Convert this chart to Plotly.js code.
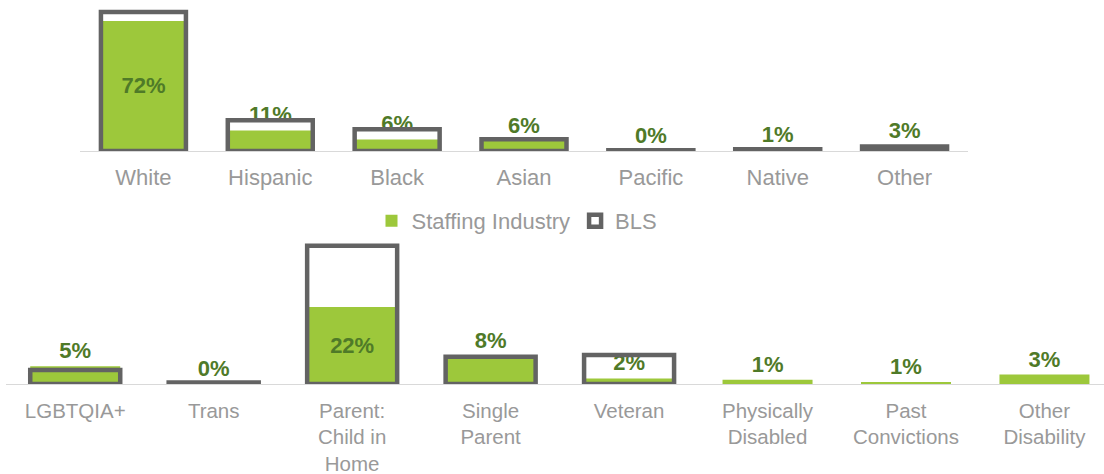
<!DOCTYPE html>
<html>
<head>
<meta charset="utf-8">
<script src="https://cdn.plot.ly/plotly-3.0.1.min.js"></script>
<style>html,body{margin:0;padding:0;background:#fff;}#chart{width:1104px;height:474px;}</style>
</head>
<body>
<div id="chart"></div>
<script>
// Top panel: race / ethnicity
const raceCategories = ["White", "Hispanic", "Black", "Asian", "Pacific", "Native", "Other"];
const raceStaffing = [72, 11.4, 6.4, 5.6, 0.1, 0.8, 2.8];
const raceStaffingLabels = ["72%", "11%", "6%", "6%", "0%", "1%", "3%"];
const raceBLS = [77, 17, 12, 6.5, 0.4, 1.0, 2.5];

// Bottom panel: other demographics
const otherCategories = ["LGBTQIA+", "Trans", "Parent:<br>Child in<br>Home", "Single<br>Parent", "Veteran",
  "Physically<br>Disabled", "Past<br>Convictions", "Other<br>Disability"];
const otherStaffing = [5.1, 0.1, 22, 8, 1.6, 1.2, 0.6, 2.7];
const otherStaffingLabels = ["5%", "0%", "22%", "8%", "2%", "1%", "1%", "3%"];
const otherBLS = [4.0, 0.4, 39.5, 7.8, 8.3, null, null, null];

const GREEN = "#9DC83B";
const OUTLINE = "#636363";
const LABEL = "#4F7A28";
const FONT = "Liberation Sans, Arial, sans-serif";

const labelFont = {family: FONT, size: 22, color: LABEL, weight: "bold"};

function posArr(vals, insideIdx) {
  return vals.map((v, i) => i === insideIdx ? "inside" : "outside");
}

const traces = [
  {
    type: "bar", name: "Staffing Industry", x: raceCategories, y: raceStaffing,
    xaxis: "x", yaxis: "y", width: 0.67,
    marker: {color: GREEN, line: {width: 0}},
    text: raceStaffingLabels, textposition: posArr(raceStaffing, 0),
    insidetextanchor: "middle", constraintext: "none", textangle: 0,
    insidetextfont: labelFont, outsidetextfont: labelFont, cliponaxis: false,
    hoverinfo: "skip", legendrank: 1
  },
  {
    type: "bar", name: "BLS", x: raceCategories, y: raceBLS,
    xaxis: "x", yaxis: "y", width: 0.67,
    marker: {color: "rgba(0,0,0,0)", line: {color: OUTLINE, width: 4.5}},
    hoverinfo: "skip", legendrank: 2, cliponaxis: false
  },
  {
    type: "bar", name: "Staffing Industry", x: otherCategories, y: otherStaffing,
    xaxis: "x2", yaxis: "y2", width: 0.65, showlegend: false,
    marker: {color: GREEN, line: {width: 0}},
    text: otherStaffingLabels, textposition: posArr(otherStaffing, 2),
    insidetextanchor: "middle", constraintext: "none", textangle: 0,
    insidetextfont: labelFont, outsidetextfont: labelFont, cliponaxis: false,
    hoverinfo: "skip"
  },
  {
    type: "bar", name: "BLS", x: otherCategories, y: otherBLS,
    xaxis: "x2", yaxis: "y2", width: 0.65, showlegend: false,
    marker: {color: "rgba(0,0,0,0)", line: {color: OUTLINE, width: 4.5}},
    hoverinfo: "skip", cliponaxis: false
  }
];

const tickFont = {family: FONT, size: 22, color: "#999999"};
const tickFont2 = {family: FONT, size: 20.5, color: "#999999"};

const layout = {
  width: 1104, height: 474,
  margin: {l: 0, r: 0, t: 0, b: 0},
  paper_bgcolor: "#ffffff", plot_bgcolor: "rgba(0,0,0,0)",
  barmode: "overlay",
  showlegend: true,
  legend: {
    orientation: "h", x: 0.4683, xanchor: "center", y: 0.534, yanchor: "middle",
    font: {family: FONT, size: 22, color: "#999999"},
    traceorder: "normal", itemwidth: 30, entrywidthmode: "pixels"
  },
  xaxis: {
    domain: [80 / 1104, 968 / 1104], anchor: "y",
    showline: true, linecolor: "#D9D9D9", linewidth: 1,
    showgrid: false, zeroline: false, ticks: "", tickfont: tickFont,
    ticklabelstandoff: 7, fixedrange: true
  },
  yaxis: {
    domain: [(474 - 151) / 474, (474 - 6.5) / 474], anchor: "x",
    range: [0, 80], visible: false, showgrid: false, zeroline: false, fixedrange: true
  },
  xaxis2: {
    domain: [6 / 1104, 1], anchor: "y2", range: [-0.5, 7.43],
    showline: true, linecolor: "#D9D9D9", linewidth: 1,
    showgrid: false, zeroline: false, ticks: "", tickfont: tickFont2,
    ticklabelstandoff: 8, fixedrange: true
  },
  yaxis2: {
    domain: [(474 - 384) / 474, (474 - 240.5) / 474], anchor: "x2",
    range: [0, 41], visible: false, showgrid: false, zeroline: false, fixedrange: true
  }
};

Plotly.newPlot("chart", traces, layout, {displayModeBar: false, staticPlot: true});
</script>
</body>
</html>
